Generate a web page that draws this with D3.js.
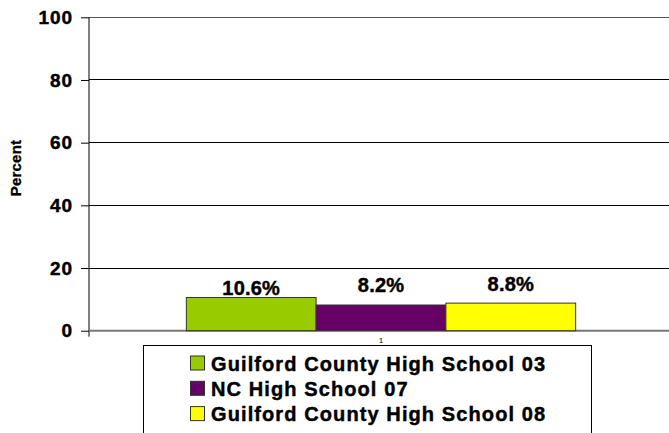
<!DOCTYPE html>
<html><head><meta charset="utf-8">
<script src="https://cdn.jsdelivr.net/npm/d3@7"></script>
<style>
html,body{margin:0;padding:0;background:#fff;}
svg{display:block;}
text{font-family:"Liberation Sans",Arial,Helvetica,sans-serif;font-weight:bold;fill:#000;}
.heavy{stroke:#000;stroke-width:0.45px;}
</style></head>
<body>
<svg id="chart" width="669" height="433"></svg>
<script>
// ---- data ----
const categories = ["1"];
const seriesNames = ["Guilford County High School 03", "NC High School 07", "Guilford County High School 08"];
const seriesValues = [10.6, 8.2, 8.8];
const valueLabels = ["10.6%", "8.2%", "8.8%"];
const yTicks = [0, 20, 40, 60, 80, 100];
const yAxisTitle = "Percent";

// ---- style / layout ----
const colors = ["#99CC00", "#660066", "#FFFF00"];
const labelLift = [2.5, 12.7, 12.3];
const W = 669, H = 433;
const plotLeft = 89, plotRight = 673, plotTop = 17.3, plotBottom = 330.7;

const svg = d3.select("#chart");

const y = d3.scaleLinear().domain([0, 100]).range([plotBottom, plotTop]);
const x0 = d3.scaleBand().domain(categories).range([plotLeft, plotRight]).paddingInner(0).paddingOuter(0.25);
const x1 = d3.scaleBand().domain(seriesNames).range([0, x0.bandwidth()]).padding(0);

// gridlines
svg.append("g").selectAll("line").data(yTicks.filter(d => d > 0)).join("line")
  .attr("x1", plotLeft).attr("x2", W).attr("y1", d => y(d)).attr("y2", d => y(d))
  .attr("stroke", d => d === 100 ? "#555" : "#000").attr("stroke-width", 1).attr("shape-rendering", "crispEdges");

// y axis
const yAxis = d3.axisLeft(y).tickValues(yTicks).tickSize(8).tickPadding(8);
const gy = svg.append("g").attr("transform", `translate(${plotLeft},0)`).call(yAxis);
gy.select(".domain").attr("stroke", "#000").attr("d", `M-0,${plotTop}V${plotBottom + 6}`);
gy.selectAll(".tick line").attr("stroke", "#000");
gy.selectAll(".tick text")
  .attr("class", "heavy")
  .style("font-size", "19px").style("letter-spacing", "0.9px")
  .style("font-family", "'Liberation Sans',Arial,sans-serif").style("font-weight", "bold")
  .attr("fill", "#000");

// x axis baseline
const xAxis = d3.axisBottom(x0).tickSize(0).tickPadding(7);
const gx = svg.append("g").attr("transform", `translate(0,${plotBottom})`).call(xAxis);
gx.select(".domain").attr("stroke", "#777").attr("stroke-width", 2).attr("d", `M${plotLeft},0H${W}`);
gx.selectAll(".tick text").style("font-size", "8px")
  .style("font-family", "'Liberation Sans',Arial,sans-serif").style("font-weight", "normal").attr("fill", "#000");

// bars
const gBars = svg.append("g").attr("transform", `translate(${x0(categories[0])},0)`);
gBars.selectAll("rect").data(seriesValues).join("rect")
  .attr("x", (d, i) => x1(seriesNames[i]))
  .attr("width", x1.bandwidth())
  .attr("y", d => y(d))
  .attr("height", d => y(0) - y(d))
  .attr("fill", (d, i) => colors[i])
  .attr("stroke", "#333").attr("stroke-width", 1);

// value labels
gBars.selectAll("text").data(seriesValues).join("text")
  .attr("class", "heavy")
  .attr("x", (d, i) => x1(seriesNames[i]) + x1.bandwidth() / 2)
  .attr("y", (d, i) => y(d) - labelLift[i])
  .attr("text-anchor", "middle")
  .style("font-size", "20px").style("letter-spacing", "0.2px")
  .text((d, i) => valueLabels[i]);

// y axis title
svg.append("text")
  .attr("class", "heavy")
  .attr("transform", `translate(21,168) rotate(-90)`)
  .attr("text-anchor", "middle")
  .style("font-size", "15px").style("letter-spacing", "0.2px")
  .style("stroke-width", "0.3px")
  .text(yAxisTitle);

// legend
const lg = svg.append("g");
lg.append("rect").attr("x", 143.5).attr("y", 345.5).attr("width", 448).attr("height", 120)
  .attr("fill", "#fff").attr("stroke", "#000").attr("stroke-width", 1);
const items = lg.selectAll("g.item").data(seriesNames).join("g")
  .attr("class", "item")
  .attr("transform", (d, i) => `translate(0,${370.5 + i * 25.3})`);
items.append("rect").attr("x", 190.5).attr("y", -14.5).attr("width", 14).attr("height", 14)
  .attr("fill", (d, i) => colors[i]).attr("stroke", "#333").attr("stroke-width", 1);
items.append("text").attr("x", 211).attr("y", 0)
  .attr("class", "heavy")
  .style("font-size", "20px").style("letter-spacing", "1.1px")
  .text(d => d);
</script>
</body></html>
